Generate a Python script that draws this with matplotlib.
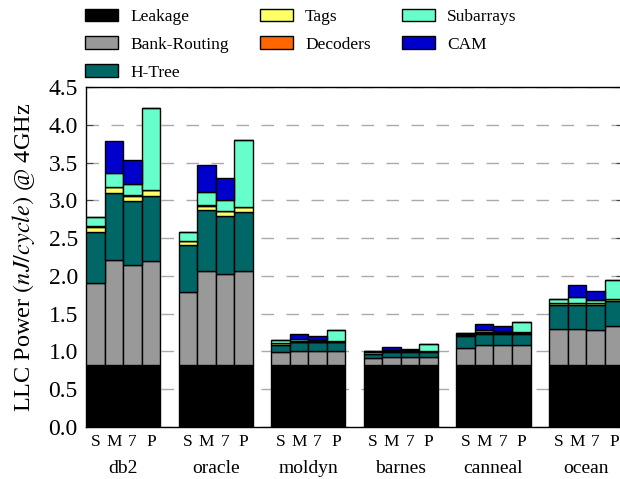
import matplotlib
matplotlib.use("Agg")
import matplotlib.pyplot as plt
import numpy as np

plt.rcParams['font.family'] = ['Liberation Serif', 'DejaVu Serif']
plt.rcParams['mathtext.fontset'] = 'stix'

workloads = ["db2", "oracle", "moldyn", "barnes", "canneal", "ocean"]
configs = ["S", "M", "7", "P"]
components = ["Leakage", "Bank-Routing", "H-Tree", "Tags", "Decoders", "Subarrays", "CAM"]
colors = ["#000000", "#999999", "#006666", "#ffff66", "#ff6600", "#66ffcc", "#0000cc"]

# values per bar, ordered workload by workload, configs S, M, 7, P
leakage = [0.82] * 24
bank_routing = [1.08, 1.39, 1.32, 1.38,
                0.97, 1.25, 1.21, 1.24,
                0.17, 0.18, 0.18, 0.18,
                0.09, 0.10, 0.10, 0.10,
                0.23, 0.26, 0.26, 0.26,
                0.48, 0.48, 0.47, 0.51]
h_tree = [0.68, 0.89, 0.85, 0.86,
          0.62, 0.80, 0.76, 0.79,
          0.10, 0.12, 0.12, 0.12,
          0.06, 0.07, 0.07, 0.07,
          0.15, 0.15, 0.15, 0.15,
          0.31, 0.32, 0.32, 0.34]
tags = [0.07, 0.07, 0.07, 0.07,
        0.05, 0.06, 0.07, 0.06,
        0.02, 0.01, 0.01, 0.01,
        0.02, 0.01, 0.01, 0.01,
        0.02, 0.02, 0.02, 0.02,
        0.03, 0.02, 0.03, 0.02]
decoders = [0.005] * 24
subarrays = [0.13, 0.19, 0.15, 1.09,
             0.11, 0.17, 0.14, 0.88,
             0.03, 0.03, 0.02, 0.15,
             0.01, 0.02, 0.01, 0.09,
             0.02, 0.03, 0.01, 0.13,
             0.05, 0.08, 0.04, 0.25]
cam = [0.00, 0.42, 0.32, 0.00,
       0.00, 0.36, 0.29, 0.00,
       0.00, 0.07, 0.05, 0.00,
       0.00, 0.03, 0.02, 0.00,
       0.00, 0.08, 0.07, 0.00,
       0.00, 0.15, 0.12, 0.00]

series = [leakage, bank_routing, h_tree, tags, decoders, subarrays, cam]

fig = plt.figure(figsize=(6.2, 4.79), dpi=100)
ax = fig.add_axes([0.139, 0.1086, 0.866, 0.7098])

n_cfg = len(configs)
group_step = n_cfg + 1
x = np.array([g * group_step + b for g in range(len(workloads)) for b in range(n_cfg)], dtype=float)

bottom = np.zeros(len(x))
handles = []
for name, col, vals in zip(components, colors, series):
    v = np.array(vals)
    h = ax.bar(x, v, width=1.0, bottom=bottom, align='edge', color=col,
               edgecolor='black', linewidth=1.0, label=name, zorder=3)
    handles.append(h)
    bottom += v

ax.set_xlim(0, len(workloads) * group_step - 1)
ax.set_ylim(0, 4.5)
ticks = np.arange(0, 4.51, 0.5)
ax.set_yticks(ticks)
ax.set_yticklabels([f"{t:.1f}" for t in ticks], fontsize=17)
ax.yaxis.grid(True, color='#aaaaaa', linestyle=(0, (9, 9)), linewidth=1.0, zorder=0)
ax.set_axisbelow(True)
ax.tick_params(axis='y', direction='in', length=5, right=True, color='#444444', pad=6)

ax.set_xticks(x + 0.5)
ax.set_xticklabels(configs * len(workloads), fontsize=12.5)
ax.tick_params(axis='x', length=0, pad=5)

for g, w in enumerate(workloads):
    ax.text(g * group_step + n_cfg / 2.0, -0.55, w, ha='center', va='center',
            fontsize=14, transform=ax.transData, clip_on=False)

ax.set_ylabel(r"LLC Power $(nJ/cycle)$ @ 4GHz", fontsize=17.5, labelpad=8)

for s in ax.spines.values():
    s.set_linewidth(1.0)

fig.legend(handles=handles, labels=components, ncol=3, loc='upper left',
           bbox_to_anchor=(0.12, 1.004), frameon=False, fontsize=12.5,
           handlelength=1.9, handleheight=0.75, handletextpad=0.7,
           columnspacing=1.8, labelspacing=0.66, borderaxespad=0.2)

fig.savefig("out.png", dpi=100)
